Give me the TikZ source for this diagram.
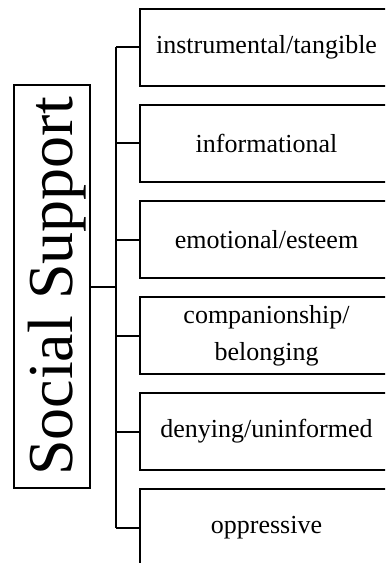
\documentclass[tikz,border=0pt]{standalone}
\usepackage{fontspec}
\setmainfont{Liberation Serif}
\begin{document}
\begin{tikzpicture}[x=1bp,y=-1bp,
  line width=2bp,
  catbox/.style={draw, line width=2bp, minimum width=253bp, minimum height=77bp, inner sep=0pt,
    font=\fontsize{26bp}{37bp}\selectfont, align=center},
  mainbox/.style={draw, line width=2bp, rotate=90, minimum width=403bp, minimum height=76bp, inner sep=0pt,
    font=\fontsize{64bp}{70bp}\selectfont, text height=48bp, text depth=8bp},
  conn/.style={line width=2bp}]
\useasboundingbox (0,0) rectangle (385,563);
\clip (0,0) rectangle (385,563);
\node[mainbox] (ss) at (52,286.5) {Social Support};
\node[catbox] (b1) at (266.5,47.5) {instrumental/tangible};
\node[catbox] (b2) at (266.5,143.5) {informational};
\node[catbox] (b3) at (266.5,239.5) {emotional/esteem};
\node[catbox] (b4) at (266.5,335.5) {companionship/\\belonging};
\node[catbox] (b5) at (266.5,431.5) {denying/uninformed};
\node[catbox] (b6) at (266.5,527.5) {oppressive};
\coordinate (ttop) at (116,47.5);
\coordinate (tbot) at (116,527.5);
\coordinate (tmid) at (116,286.5);
\draw[conn] (ttop) -- (tbot);
\draw[conn] (ss.south) -- (tmid);
\foreach \b in {b1,b2,b3,b4,b5,b6}
  \draw[conn] (\b.west) -- (\b.west -| ttop);
\end{tikzpicture}
\end{document}
